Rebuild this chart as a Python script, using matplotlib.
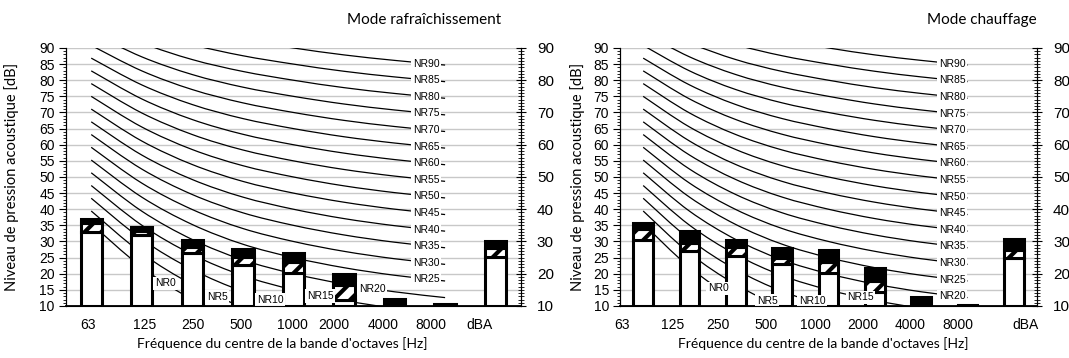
import numpy as np
import matplotlib.pyplot as plt
from matplotlib.path import Path
from matplotlib.patches import PathPatch
from matplotlib.ticker import MultipleLocator

plt.rcParams['font.family'] = 'Liberation Sans'
plt.rcParams['hatch.color'] = 'black'
plt.rcParams['hatch.linewidth'] = 3.0

bands = ['63', '125', '250', '500', '1000', '2000', '4000', '8000', 'dBA']

# NR curve coefficients per octave band, 63 Hz .. 8 kHz : L = a + b * NR
nr_a = [35.5, 22.0, 12.0, 4.8, 0.0, -3.5, -6.1, -8.0]
nr_b = [0.790, 0.870, 0.930, 0.974, 1.000, 1.015, 1.025, 1.030]
nr_levels = list(range(0, 95, 5))

# each bar = white part up to *_low, hatched part up to *_mid, black part up to *_top
cool_low = [33.0, 32.0, 26.4, 22.8, 20.2, 11.8, 10.0, 10.0, 25.2]
cool_mid = [35.8, 33.4, 28.4, 25.3, 23.7, 16.4, 10.0, 10.0, 27.9]
cool_top = [36.9, 34.4, 30.5, 27.6, 26.5, 19.9, 12.1, 10.5, 30.3]

heat_low = [30.4, 27.0, 25.4, 23.0, 20.3, 14.3, 10.0, 10.0, 24.9]
heat_mid = [34.0, 29.6, 28.4, 24.8, 23.7, 17.6, 10.0, 10.0, 27.4]
heat_top = [35.7, 33.1, 30.5, 28.1, 27.4, 21.7, 12.9, 10.2, 30.8]


def segments(xs, ys):
    # smoothed line as cubic bezier pieces (Catmull-Rom style)
    p = np.column_stack([xs, ys])
    pp = np.vstack([p[0], p, p[-1]])
    segs = []
    for i in range(len(p) - 1):
        p0, p1, p2, p3 = pp[i], pp[i + 1], pp[i + 2], pp[i + 3]
        segs.append((p1, p1 + (p2 - p0) / 6.0, p2 - (p3 - p1) / 6.0, p2))
    return segs


def smooth_path(xs, ys):
    segs = segments(xs, ys)
    verts = [segs[0][0]]
    codes = [Path.MOVETO]
    for s in segs:
        verts += [s[1], s[2], s[3]]
        codes += [Path.CURVE4] * 3
    return Path(verts, codes)


def curve_at(xs, ys, xq):
    segs = segments(xs, ys)
    i = min(int(np.floor(xq)), len(segs) - 1)
    t = xq - i
    a, b, c, d = segs[i]
    pt = (1 - t) ** 3 * a + 3 * (1 - t) ** 2 * t * b + 3 * (1 - t) * t ** 2 * c + t ** 3 * d
    return pt[1]


def draw_panel(ax, low, mid, top, label_x, tick_x, width):
    x = np.arange(len(bands))
    ax.set_xlim(-0.5, len(bands) - 0.5)
    ax.set_ylim(10, 90)

    xs = np.arange(len(nr_a))
    for n in nr_levels:
        ys = np.array(nr_a) + np.array(nr_b) * n
        ax.add_patch(PathPatch(smooth_path(xs, ys), fill=False, lw=0.9,
                               edgecolor='black', zorder=2))
        lx = label_x[min(n // 5, len(label_x) - 1)]
        ax.text(lx, curve_at(xs, ys, lx), 'NR%d' % n, fontsize=7.5,
                ha='center', va='center', zorder=5,
                bbox=dict(facecolor='white', edgecolor='none', pad=1.2))

    low = np.array(low)
    mid = np.array(mid)
    top = np.array(top)
    kw = dict(width=width, edgecolor='black', linewidth=2.2, zorder=3)
    ax.bar(x, low - 10, bottom=10, color='white', **kw)
    ax.bar(x, mid - low, bottom=low, color='white', hatch='//', **kw)
    ax.bar(x, top - mid, bottom=mid, color='black', **kw)

    ax.yaxis.set_major_locator(MultipleLocator(5))
    ax.yaxis.set_minor_locator(MultipleLocator(1))
    ax.grid(axis='y', which='major', color='#c8c8c8', lw=1.0, zorder=0)
    ax.set_axisbelow(True)
    ax.set_xticks(tick_x, bands)
    ax.tick_params(axis='x', length=0, pad=9, labelsize=10)
    ax.tick_params(axis='y', which='major', length=5, labelsize=10, pad=3)
    ax.tick_params(axis='y', which='minor', length=2.5)
    ax.spines['top'].set_visible(False)
    ax.spines['bottom'].set_linewidth(1.3)

    ax2 = ax.twinx()
    ax2.set_ylim(10, 90)
    ax2.yaxis.set_major_locator(MultipleLocator(10))
    ax2.yaxis.set_minor_locator(MultipleLocator(1))
    ax2.tick_params(axis='y', which='major', direction='inout', length=7,
                    labelsize=11, pad=8)
    ax2.tick_params(axis='y', which='minor', direction='inout', length=4)
    ax2.spines['top'].set_visible(False)


fig = plt.figure(figsize=(10.69, 3.58), dpi=100)
ax_cool = fig.add_axes([0.0617, 0.1453, 0.4256, 0.7207])
ax_heat = fig.add_axes([0.5800, 0.1453, 0.3901, 0.7207])

draw_panel(ax_cool, cool_low, cool_mid, cool_top,
           [1.46, 2.49, 3.54, 4.53, 5.56, 6.63],
           [-0.07, 1.06, 2.01, 2.96, 3.99, 4.80, 5.78, 6.71, 7.68], 0.42)
draw_panel(ax_heat, heat_low, heat_mid, heat_top,
           [1.62, 2.68, 3.65, 4.69, 6.67, 6.67],
           [-0.45, 0.63, 1.62, 2.66, 3.71, 4.73, 5.77, 6.80, 8.25], 0.43)

lato = dict(family='Lato')
fig.text(424 / 1069, 1 - 20 / 358, 'Mode rafraîchissement', ha='center', va='center', fontsize=11, **lato)
fig.text(982 / 1069, 1 - 20 / 358, 'Mode chauffage', ha='center', va='center', fontsize=11, **lato)
for xpix in (12, 578):
    fig.text(xpix / 1069, 1 - 177 / 358, 'Niveau de pression acoustique [dB]',
             rotation=90, ha='center', va='center', fontsize=10.5, **lato)
fig.text(282 / 1069, 1 - 344 / 358, "Fréquence du centre de la bande d'octaves [Hz]",
         ha='center', va='center', fontsize=10, **lato)
fig.text(823 / 1069, 1 - 344 / 358, "Fréquence du centre de la bande d'octaves [Hz]",
         ha='center', va='center', fontsize=10, **lato)

fig.savefig('out.png', dpi=100)
